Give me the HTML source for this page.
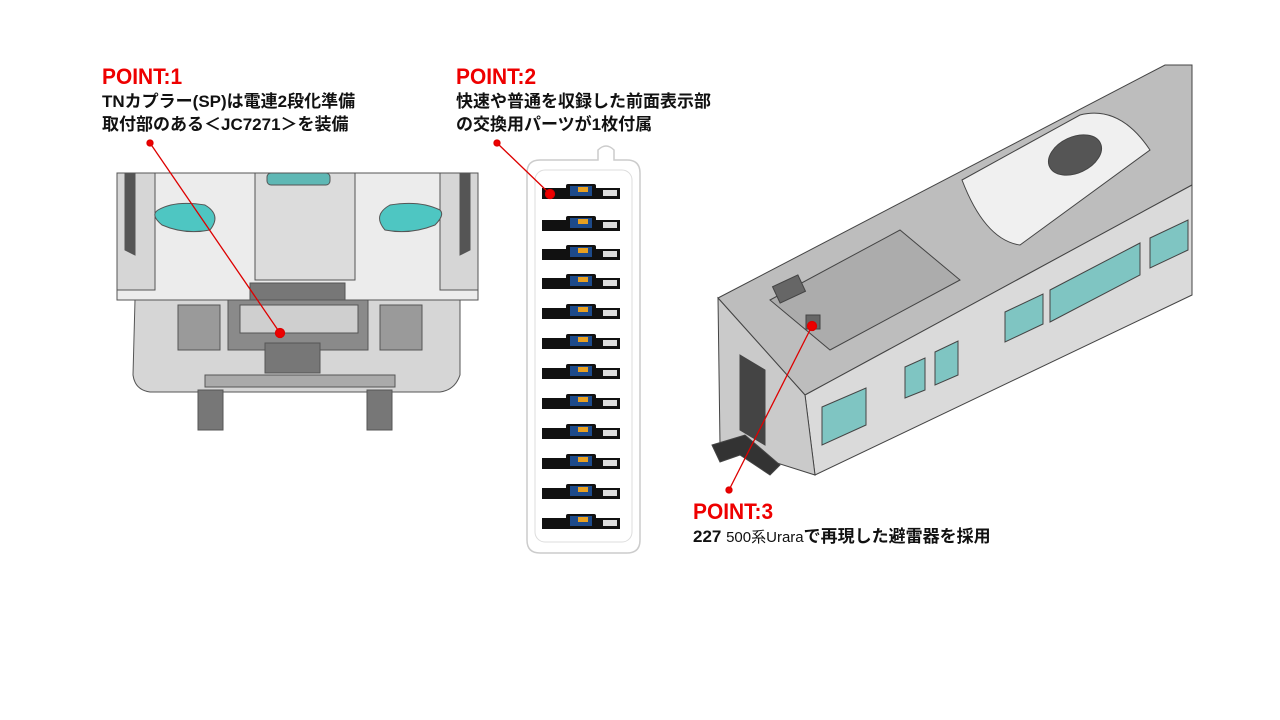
<!DOCTYPE html>
<html><head><meta charset="utf-8"><style>
body{margin:0;background:#fff;width:1280px;height:720px;overflow:hidden;position:relative;font-family:"Liberation Sans","Noto Sans CJK JP",sans-serif;}
.t{position:absolute;font-weight:bold;color:#111;font-size:17px;line-height:23px;white-space:nowrap}
.p{color:#e00;font-size:22px;line-height:24px;transform:scaleX(0.95);transform-origin:left}
svg{position:absolute;left:0;top:0}
</style></head><body>
<svg width="1280" height="720" viewBox="0 0 1280 720">
<g stroke="#555" stroke-width="1">
<path d="M117 173 H478 V300 H117 Z" fill="#ececec"/>
<path d="M117 173 H155 V290 H117Z" fill="#d6d6d6"/>
<path d="M440 173 H478 V290 H440Z" fill="#d6d6d6"/>
<path d="M125 173 V250 L135 255 V173Z" fill="#555"/>
<path d="M470 173 V250 L460 255 V173Z" fill="#555"/>
<path d="M255 173 H355 V280 H255Z" fill="#dcdcdc"/>
<rect x="267" y="173" width="63" height="12" rx="4" fill="#5fb8b5"/>
<path d="M158 210 Q175 200 205 205 Q222 215 210 230 Q185 235 162 225 Q150 215 158 210Z" fill="#4ec6c2"/>
<path d="M440 210 Q420 200 390 205 Q372 215 385 230 Q410 235 435 225 Q445 215 440 210Z" fill="#4ec6c2"/>
<path d="M135 300 H460 V375 Q455 390 440 392 H150 Q135 390 133 375Z" fill="#d6d6d6"/>
<rect x="178" y="305" width="42" height="45" fill="#9a9a9a"/>
<rect x="380" y="305" width="42" height="45" fill="#9a9a9a"/>
<path d="M250 283 H345 V300 H250Z" fill="#777"/>
<rect x="228" y="300" width="140" height="50" fill="#8a8a8a"/>
<rect x="240" y="305" width="118" height="28" fill="#cfcfcf"/>
<rect x="265" y="343" width="55" height="30" fill="#777"/>
<rect x="205" y="375" width="190" height="12" fill="#aaa"/>
<rect x="198" y="390" width="25" height="40" fill="#777"/>
<rect x="367" y="390" width="25" height="40" fill="#777"/>
</g>
<path d="M540 160 H598 V150 Q606 142 614 150 V160 H627 Q640 160 640 173 V540 Q640 553 627 553 H540 Q527 553 527 540 V173 Q527 160 540 160Z" fill="#fff" stroke="#ccc" stroke-width="1.5"/>
<rect x="535" y="170" width="97" height="372" rx="10" fill="#fff" stroke="#ddd"/>
<g id="pl">
<rect x="542" y="188" width="78" height="11" fill="#111"/>
<rect x="566" y="184" width="30" height="15" rx="2" fill="#111"/>
<rect x="570" y="186" width="22" height="10" fill="#1d4a8a"/>
<rect x="578" y="187" width="10" height="5" fill="#e8a020"/>
<rect x="603" y="190" width="14" height="6" fill="#ddd"/>
</g>
<use href="#pl" y="32"/><use href="#pl" y="61"/><use href="#pl" y="90"/><use href="#pl" y="120"/><use href="#pl" y="150"/><use href="#pl" y="180"/><use href="#pl" y="210"/><use href="#pl" y="240"/><use href="#pl" y="270"/><use href="#pl" y="300"/><use href="#pl" y="330"/>
<g stroke="#444" stroke-width="1">
<path d="M718 298 L1165 65 H1192 V185 L805 395Z" fill="#bdbdbd"/>
<path d="M805 395 L1192 185 V295 L815 475Z" fill="#dadada"/>
<path d="M718 298 L805 395 L815 475 L720 445Z" fill="#cacaca"/>
<path d="M962 180 L1080 115 Q1120 105 1150 150 L1020 245 Q985 240 962 180Z" fill="#f0f0f0"/>
<ellipse cx="1075" cy="155" rx="28" ry="18" fill="#555" transform="rotate(-25 1075 155)"/>
<path d="M770 300 L900 230 L960 280 L830 350Z" fill="#acacac"/>
<rect x="775" y="280" width="28" height="18" fill="#666" transform="rotate(-25 789 289)"/>
<rect x="806" y="315" width="14" height="14" fill="#666"/>
<path d="M740 355 L765 370 V445 L740 430Z" fill="#444"/>
<path d="M712 445 L745 435 L780 465 L770 475 L740 455 L720 462Z" fill="#333"/>
</g>
<g fill="#7fc5c2" stroke="#444">
<path d="M822 407 L866 388 V425 L822 445Z"/>
<path d="M905 367 L925 358 V390 L905 398Z"/>
<path d="M935 352 L958 341 V375 L935 385Z"/>
<path d="M1005 312 L1043 294 V324 L1005 342Z"/>
<path d="M1050 290 L1140 243 V275 L1050 322Z"/>
<path d="M1150 238 L1188 220 V250 L1150 268Z"/>
</g>
<g stroke="#d00" stroke-width="1.3" fill="#e00">
<line x1="150" y1="143" x2="280" y2="333"/><circle cx="150" cy="143" r="3"/><circle cx="280" cy="333" r="4.5"/>
<line x1="497" y1="143" x2="550" y2="194"/><circle cx="497" cy="143" r="3"/><circle cx="550" cy="194" r="4.5"/>
<line x1="729" y1="490" x2="812" y2="326"/><circle cx="729" cy="490" r="3"/><circle cx="812" cy="326" r="4.5"/>
</g>
</svg>
<div class="t p" style="left:102px;top:65px">POINT:1</div>
<div class="t" style="left:102px;top:90px">TNカプラー(SP)は電連2段化準備<br>取付部のある＜JC7271＞を装備</div>
<div class="t p" style="left:456px;top:65px">POINT:2</div>
<div class="t" style="left:456px;top:90px">快速や普通を収録した前面表示部<br>の交換用パーツが1枚付属</div>
<div class="t p" style="left:693px;top:500px">POINT:3</div>
<div class="t" style="left:693px;top:525px">227 <span style="font-size:15px;font-weight:normal">500系Urara</span>で再現した避雷器を採用</div>
</body></html>
